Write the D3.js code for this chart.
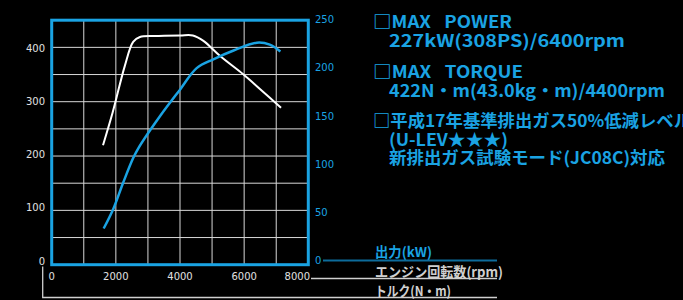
<!DOCTYPE html>
<html lang="ja">
<head>
  <meta charset="UTF-8">
  <title>Engine performance curve</title>
  <script src="https://d3js.org/d3.v7.min.js"></script>
  <style>
    body {
      margin: 0;
      background-color: #000;
      font-family: "Noto Sans CJK JP", "Noto Sans", sans-serif;
    }
    svg { display: block; }
    .num { font-family: "DejaVu Sans", sans-serif; font-size: 10px; }
  </style>
</head>
<body>
  <svg id="chart" width="683" height="300"></svg>

  <script>
    // torque curve (N·m, left axis)
    const torqueRpm = [1600, 1900, 2280, 2540, 2750, 3200, 4000, 4400, 4730, 5250, 5980, 6500, 7150];
    const torque    = [220, 280, 366, 410, 419, 421, 422, 422, 412, 384, 350, 323, 289];

    // power curve (kW, right axis)
    const powerRpm = [1620, 1920, 2230, 2540, 2700, 3380, 4000, 4520, 5040, 5670, 6400, 6800, 7130];
    const power    = [37, 57, 84, 109, 119, 152, 179, 201, 210, 219, 227, 225, 218];

    const rpmTicks = [0, 2000, 4000, 6000, 8000];
    const torqueTicks = [0, 100, 200, 300, 400];
    const powerTicks = [0, 50, 100, 150, 200, 250];

    const specLines = [
      "□MAX\u2002 POWER",
      "227kW(308PS)/6400rpm",
      "□MAX\u2002 TORQUE",
      "422N・m(43.0kg・m)/4400rpm",
      "□平成17年基準排出ガス50%低減レベル",
      "(U-LEV★★★)",
      "新排出ガス試験モード(JC08C)対応"
    ];
    const legendLabels = ["出力(kW)", "エンジン回転数(rpm)", "トルク(N・m)"];

    const BLUE = "#1aa3e3";
    const svg = d3.select("#chart");

    const plotL = 51.7, plotR = 308.3, plotT = 20.2, plotB = 264.7;

    const x = d3.scaleLinear().domain([0, 8000]).range([plotL, plotR]);
    const yT = d3.scaleLinear().domain([0, 450]).range([plotB, plotT]);
    const yP = d3.scaleLinear().domain([0, 250]).range([plotB, plotT]);
    // tick labels sit a little off the grid in the original
    const yTLab = d3.scaleLinear().domain([0, 400]).range([261, 48]);
    const yPLab = d3.scaleLinear().domain([0, 250]).range([260.5, 19.5]);

    // grid
    const grid = svg.append("g").attr("stroke", "#d8d8d8").attr("stroke-width", 1);
    grid.selectAll("line.v")
      .data(d3.range(1000, 8000, 1000))
      .enter().append("line")
      .attr("class", "v")
      .attr("x1", d => x(d)).attr("x2", d => x(d))
      .attr("y1", plotT).attr("y2", plotB);
    grid.selectAll("line.h")
      .data(d3.range(50, 450, 50))
      .enter().append("line")
      .attr("class", "h")
      .attr("x1", plotL).attr("x2", plotR)
      .attr("y1", d => yT(d)).attr("y2", d => yT(d));

    // curves
    const torqueData = torqueRpm.map((r, i) => [r, torque[i]]);
    const powerData = powerRpm.map((r, i) => [r, power[i]]);

    svg.append("path")
      .datum(torqueData)
      .attr("fill", "none")
      .attr("stroke", "#fff")
      .attr("stroke-width", 2)
      .attr("d", d3.line().x(d => x(d[0])).y(d => yT(d[1])).curve(d3.curveCatmullRom.alpha(0.5)));

    svg.append("path")
      .datum(powerData)
      .attr("fill", "none")
      .attr("stroke", BLUE)
      .attr("stroke-width", 2.5)
      .attr("d", d3.line().x(d => x(d[0])).y(d => yP(d[1])).curve(d3.curveCatmullRom.alpha(0.5)));

    // frame
    svg.append("rect")
      .attr("x", plotL).attr("y", plotT)
      .attr("width", plotR - plotL).attr("height", plotB - plotT)
      .attr("fill", "none").attr("stroke", BLUE).attr("stroke-width", 3);

    // left axis labels
    svg.append("g").selectAll("text")
      .data(torqueTicks)
      .enter().append("text")
      .attr("class", "num")
      .attr("x", 45).attr("y", d => yTLab(d))
      .attr("dy", "0.36em")
      .attr("text-anchor", "end")
      .attr("fill", "#e0e0e0")
      .text(d => d);

    // right axis labels
    svg.append("g").selectAll("text")
      .data(powerTicks)
      .enter().append("text")
      .attr("class", "num")
      .attr("x", 315).attr("y", d => yPLab(d))
      .attr("dy", "0.36em")
      .attr("fill", BLUE)
      .text(d => d);

    // bottom axis labels
    svg.append("g").selectAll("text")
      .data(rpmTicks)
      .enter().append("text")
      .attr("class", "num")
      .attr("x", d => d === 8000 ? 310 : x(d))
      .attr("y", 276)
      .attr("dy", "0.36em")
      .attr("text-anchor", d => d === 8000 ? "end" : "middle")
      .attr("fill", "#e0e0e0")
      .text(d => d);

    // legend leader lines
    svg.append("line")
      .attr("x1", 323).attr("x2", 497).attr("y1", yPLab(0)).attr("y2", yPLab(0))
      .attr("stroke", "#0d6c9c").attr("stroke-width", 2);
    svg.append("line")
      .attr("x1", 311).attr("x2", 497).attr("y1", 278.5).attr("y2", 278.5)
      .attr("stroke", "#cfcfcf").attr("stroke-width", 1.3);
    svg.append("path")
      .attr("d", "M42.7,266.5V297.5H497")
      .attr("fill", "none").attr("stroke", "#cfcfcf").attr("stroke-width", 1.3);

    const legendY = [257, 276.5, 296];
    const legendW = [57, 128, 76];
    svg.append("g").selectAll("text")
      .data(legendLabels)
      .enter().append("text")
      .attr("x", 375).attr("y", (d, i) => legendY[i])
      .attr("fill", (d, i) => i === 0 ? BLUE : "#d0d0d0")
      .attr("font-size", 13.5)
      .attr("font-weight", "bold")
      .attr("textLength", (d, i) => legendW[i])
      .attr("lengthAdjust", "spacingAndGlyphs")
      .text(d => d);

    // spec text block
    const specX = [373, 389, 373, 389, 373, 389, 389];
    const specY = [28, 46.5, 77.5, 96.5, 127, 145.5, 164];
    const specW = [139, 236, 150, 276, 318, 119, 276];
    svg.append("g").selectAll("text")
      .data(specLines)
      .enter().append("text")
      .attr("x", (d, i) => specX[i]).attr("y", (d, i) => specY[i])
      .attr("fill", BLUE)
      .attr("font-size", 17)
      .attr("font-weight", "bold")
      .attr("textLength", (d, i) => specW[i])
      .attr("lengthAdjust", "spacingAndGlyphs")
      .text(d => d);
  </script>
</body>
</html>
